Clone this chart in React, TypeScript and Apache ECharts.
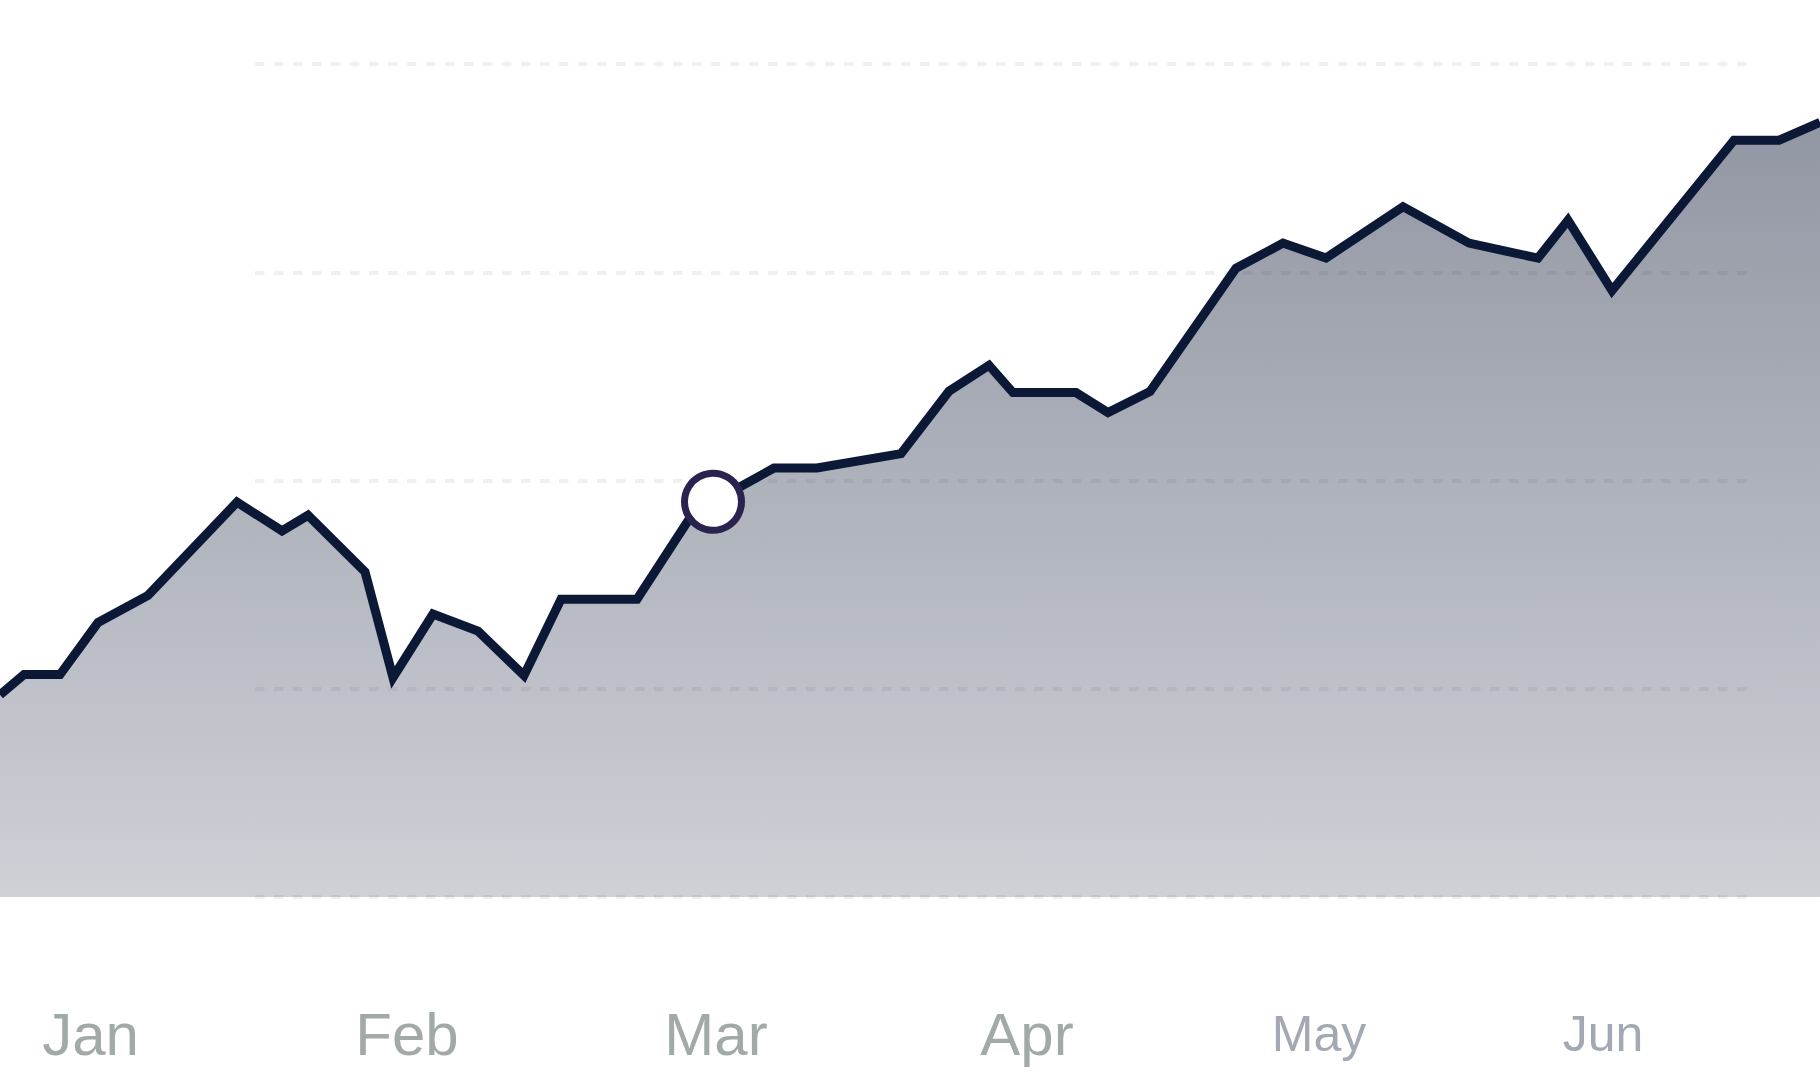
import React, { useEffect, useRef } from "react";
import * as echarts from "echarts";

// x positions in days from the start of the visible period, values on a 0–400 scale
const xDays = [0, 2.4, 6.0, 9.8, 14.8, 23.7, 28.2, 30.8, 36.5, 39.3, 43.3, 47.8, 52.4, 56.1, 63.7, 68.8, 71.3, 77.4, 81.7, 90.1, 94.9, 98.9, 101.3, 107.6, 110.8, 115.0, 123.6, 128.3, 132.6, 140.3, 146.9, 153.8, 156.8, 161.2, 173.4, 177.9, 182];
const values = [97.1, 106.8, 106.8, 131.8, 144.8, 189.6, 175.8, 183.3, 156.1, 105.4, 135.9, 127.7, 106.4, 143, 143, 180.6, 189.8, 206, 206, 212.9, 242.9, 255.3, 242.2, 242.2, 232.6, 242.7, 301.9, 314, 306.8, 331.5, 314, 306.8, 325, 291.2, 363.4, 363.4, 372];
const highlightIndex = 16;

const monthLabels = ["Jan", "Feb", "Mar", "Apr", "May", "Jun"];
const monthPositions = [9.05, 40.7, 71.6, 102.7, 131.9, 160.3];
const yTicks = [0, 100, 200, 300, 400];

export default function App() {
  const ref = useRef<HTMLDivElement>(null);

  useEffect(() => {
    if (!ref.current) return;
    const chart = echarts.init(ref.current, undefined, { renderer: "svg" });
    const lineData = xDays.map((x, i) => [x, values[i]]);
    const option: any = {
      animation: false,
      backgroundColor: "#ffffff",
      grid: [
        { left: 0, right: 0, top: 64, bottom: 191 },
        { left: 255, right: 64, top: 64, bottom: 191 },
      ],
      xAxis: [
        {
          type: "value",
          gridIndex: 0,
          min: 0,
          max: 182,
          axisLine: { show: false },
          axisTick: { show: false },
          splitLine: { show: false },
          axisLabel: {
            customValues: monthPositions,
            margin: 137,
            verticalAlign: "middle",
            fontFamily: "Liberation Sans",
            formatter: (v: number) => {
              let idx = 0;
              let best = Infinity;
              monthPositions.forEach((p, i) => {
                const d = Math.abs(p - v);
                if (d < best) {
                  best = d;
                  idx = i;
                }
              });
              return idx < 4 ? `{a|${monthLabels[idx]}}` : `{b|${monthLabels[idx]}}`;
            },
            rich: {
              a: { fontSize: 60, color: "#a1aaa6", fontFamily: "Liberation Sans" },
              b: { fontSize: 50, color: "#a3a9b3", fontFamily: "Liberation Sans" },
            },
          },
        },
        {
          type: "value",
          gridIndex: 1,
          min: 0,
          max: 182,
          show: false,
        },
      ],
      yAxis: [
        {
          type: "value",
          gridIndex: 0,
          min: yTicks[0],
          max: yTicks[yTicks.length - 1],
          interval: 100,
          show: false,
        },
        {
          type: "value",
          gridIndex: 1,
          min: yTicks[0],
          max: yTicks[yTicks.length - 1],
          interval: 100,
          axisLine: { show: false },
          axisTick: { show: false },
          axisLabel: { show: false },
          splitLine: {
            show: true,
            lineStyle: { type: [9.5, 9.5], width: 4, color: "rgba(0,0,0,0.06)" },
          },
        },
      ],
      series: [
        {
          type: "line",
          xAxisIndex: 0,
          yAxisIndex: 0,
          data: lineData,
          symbol: "none",
          lineStyle: { color: "#0b1836", width: 9, join: "miter", miterLimit: 10 },
          areaStyle: {
            opacity: 1,
            color: new echarts.graphic.LinearGradient(0, 0, 0, 1, [
              { offset: 0, color: "rgba(11,23,51,0.45)" },
              { offset: 1, color: "rgba(11,23,51,0.2)" },
            ]),
          },
          z: 2,
        },
        {
          type: "scatter",
          xAxisIndex: 0,
          yAxisIndex: 0,
          data: [[xDays[highlightIndex], values[highlightIndex]]],
          symbol: "circle",
          symbolSize: 57,
          itemStyle: { color: "#ffffff", borderColor: "#2a2350", borderWidth: 7, opacity: 1 },
          z: 5,
        },
      ],
    };
    chart.setOption(option);
    return () => chart.dispose();
  }, []);

  return (
    <div
      ref={ref}
      style={{ position: "absolute", left: 0, top: 0, width: 1820, height: 1088, background: "#fff" }}
    />
  );
}
